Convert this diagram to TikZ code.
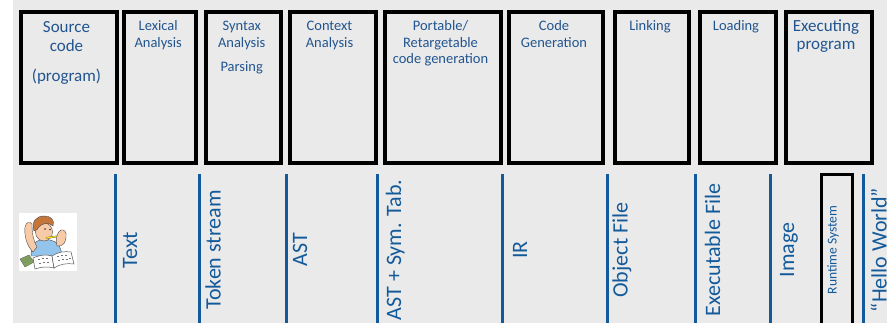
\documentclass[tikz,border=0pt]{standalone}
\usepackage{fontspec}
\setmainfont{Carlito}
\definecolor{panel}{HTML}{EAEAEA}
\definecolor{inkblue}{HTML}{22558F}
\definecolor{lineblue}{HTML}{135A9B}
\definecolor{hair}{HTML}{C4753A}
\definecolor{skin}{HTML}{F8CBA8}
\definecolor{shirt}{HTML}{93C4EC}
\definecolor{cash}{HTML}{7FA35A}

\tikzset{
  stagebox/.style={draw=black, line width=4pt, fill=panel, inner sep=0pt,
    anchor=north west},
  toplbl/.style={anchor=base, inner sep=0pt, text=inkblue,
    font=\fontsize{14.5}{17}\selectfont},
  biglbl/.style={toplbl, font=\fontsize{17}{19}\selectfont},
  sepline/.style={draw=lineblue, line width=3pt},
  datalbl/.style={anchor=base, rotate=90, inner sep=0pt, text=lineblue,
    font=\fontsize{22}{26}\selectfont},
  rtbox/.style={draw=black, line width=3pt, inner sep=0pt, anchor=north west},
  outl/.style={draw=black!70, line width=0.4pt},
}

\begin{document}
\begin{tikzpicture}[x=1pt, y=-1pt]
  \useasboundingbox (0,0) rectangle (887,323);
  \clip (0,0) rectangle (887,323);
  \fill[white] (0,0) rectangle (887,323);
  \fill[panel] (13,0) rectangle (887,323);

  % ---- compiler stages ----
  \node[stagebox, minimum width=96pt,  minimum height=151pt] (src)  at (19,10) {};
  \node[stagebox, minimum width=72.7pt, minimum height=151pt] (lex)  at (121.5,10) {};
  \node[stagebox, minimum width=74.7pt, minimum height=151pt] (syn)  at (204.3,10) {};
  \node[stagebox, minimum width=85.7pt, minimum height=151pt] (ctx)  at (288,10) {};
  \node[stagebox, minimum width=116pt,  minimum height=151pt] (port) at (382.7,10) {};
  \node[stagebox, minimum width=93.7pt, minimum height=151pt] (cg)   at (507,10) {};
  \node[stagebox, minimum width=74.3pt, minimum height=151pt] (link) at (612.7,10) {};
  \node[stagebox, minimum width=75.4pt, minimum height=151pt] (load) at (698.3,10) {};
  \node[stagebox, minimum width=86.6pt, minimum height=151pt] (exec) at (783.7,10) {};

  \node[biglbl] (srcA) at (66.5,33) {Source};
  \node[biglbl] (srcB) at (66.5,52) {code};
  \node[biglbl] (srcC) at (66.5,82) {(program)};

  \node[toplbl] (lexA) at (158.2,30.5) {Lexical};
  \node[toplbl] (lexB) at (158.2,47.5) {Analysis};

  \node[toplbl] (synA) at (241.7,30.5) {Syntax};
  \node[toplbl] (synB) at (241.7,47.5) {Analysis};
  \node[toplbl] (synC) at (241.7,71.5) {Parsing};

  \node[toplbl] (ctxA) at (329.5,30.5) {Context};
  \node[toplbl] (ctxB) at (329.5,47.5) {Analysis};

  \node[toplbl] (portA) at (440.5,30.5) {Portable/};
  \node[toplbl] (portB) at (440.5,47.5) {Retargetable};
  \node[toplbl] (portC) at (440.5,63.5) {code generation};

  \node[toplbl] (cgA) at (554,30.5) {Code};
  \node[toplbl] (cgB) at (554,47.5) {Generation};

  \node[toplbl] (linkA) at (650,30.5) {Linking};
  \node[toplbl] (loadA) at (736,30.5) {Loading};

  \node[biglbl] (execA) at (826,32) {Executing};
  \node[biglbl] (execB) at (826,50) {program};

  % ---- intermediate representations ----
  \foreach \sx in {115.3,199.3,286,377.7,502.3,607.3,695.7,770.7,863.7}
    \draw[sepline] (\sx,174) -- (\sx,330);

  \node[datalbl] (dText)  at (137,250) {Text};
  \node[datalbl] (dTok)   at (220.5,250) {Token stream};
  \node[datalbl] (dAst)   at (307,250) {AST};
  \node[datalbl] (dSym)   at (401,250) {AST + Sym. Tab.};
  \node[datalbl] (dIR)    at (527,250) {IR};
  \node[datalbl] (dObj)   at (627.5,250) {Object File};
  \node[datalbl] (dExe)   at (720,250) {Executable File};
  \node[datalbl] (dImg)   at (794,250) {Image};
  \node[rtbox, minimum width=31pt, minimum height=160pt] (rts) at (819.5,173.5) {};
  \node[datalbl, font=\fontsize{13.5}{16}\selectfont] (dRts) at (836.5,250) {Runtime System};
  \node[datalbl] (dHello) at (886.5,250) {“Hello World”};

  % ---- student with a book ----
  \fill[white] (19,213) rectangle (77,271);
  % shirt
  \filldraw[fill=shirt, outl] (31,256) .. controls (31,246) and (35,241) .. (40,240)
    -- (50,240) .. controls (57,241) and (61,246) .. (62,256) -- cycle;
  % raised left arm and hand on the head
  \filldraw[fill=skin, outl] (33,252) .. controls (27,246) and (24,236) .. (25,227)
    .. controls (26,222) and (30,221) .. (32,224)
    .. controls (32,232) and (33,240) .. (37,247) -- cycle;
  % face
  \filldraw[fill=skin, outl] (44,232) ellipse (8.5 and 9);
  % hair
  \filldraw[fill=hair, outl] (34,231) .. controls (31,222) and (36,216) .. (44,216)
    .. controls (51,216) and (55,220) .. (53,226)
    .. controls (49,222) and (42,223) .. (39,227)
    .. controls (38,229) and (36,231) .. (34,231) -- cycle;
  % eyes
  \fill[black!80] (45,229) circle (0.8) (50,229.5) circle (0.8);
  % pencil
  \draw[draw=black!60, line width=1.8pt] (46,238) -- (60,236);
  \draw[draw=yellow!85!orange, line width=1.1pt] (46,238) -- (60,236);
  % right hand
  \filldraw[fill=skin, outl] (57,246) .. controls (55,240) and (57,232) .. (61,230)
    .. controls (64,229) and (67,232) .. (66,237)
    .. controls (66,242) and (63,247) .. (57,246) -- cycle;
  % banknotes
  \filldraw[fill=cash, draw=black!60, line width=0.4pt]
    (20,259) -- (29,255) -- (34,262) -- (25,267) -- cycle;
  \draw[draw=black!50, line width=0.3pt] (22,261) -- (30,257.5) (23,263) -- (31,259.5);
  % open book
  \filldraw[fill=white, draw=black!65, line width=0.5pt]
    (33,258) .. controls (40,255) and (46,254) .. (52,256)
    -- (54,268) .. controls (47,266) and (41,267) .. (35,269) -- cycle;
  \filldraw[fill=white, draw=black!65, line width=0.5pt]
    (52,256) .. controls (58,252) and (64,251) .. (71,252)
    -- (74,264) .. controls (67,263) and (60,264) .. (54,268) -- cycle;
  \foreach \px/\py in {38/259,42/258,46/258,39/263,43/262,47/262,
                       57/256,61/255,65/255,58/260,62/259,66/259,69/258}
    \fill[black!55] (\px,\py) rectangle ++(2,1.5);
\end{tikzpicture}
\end{document}
